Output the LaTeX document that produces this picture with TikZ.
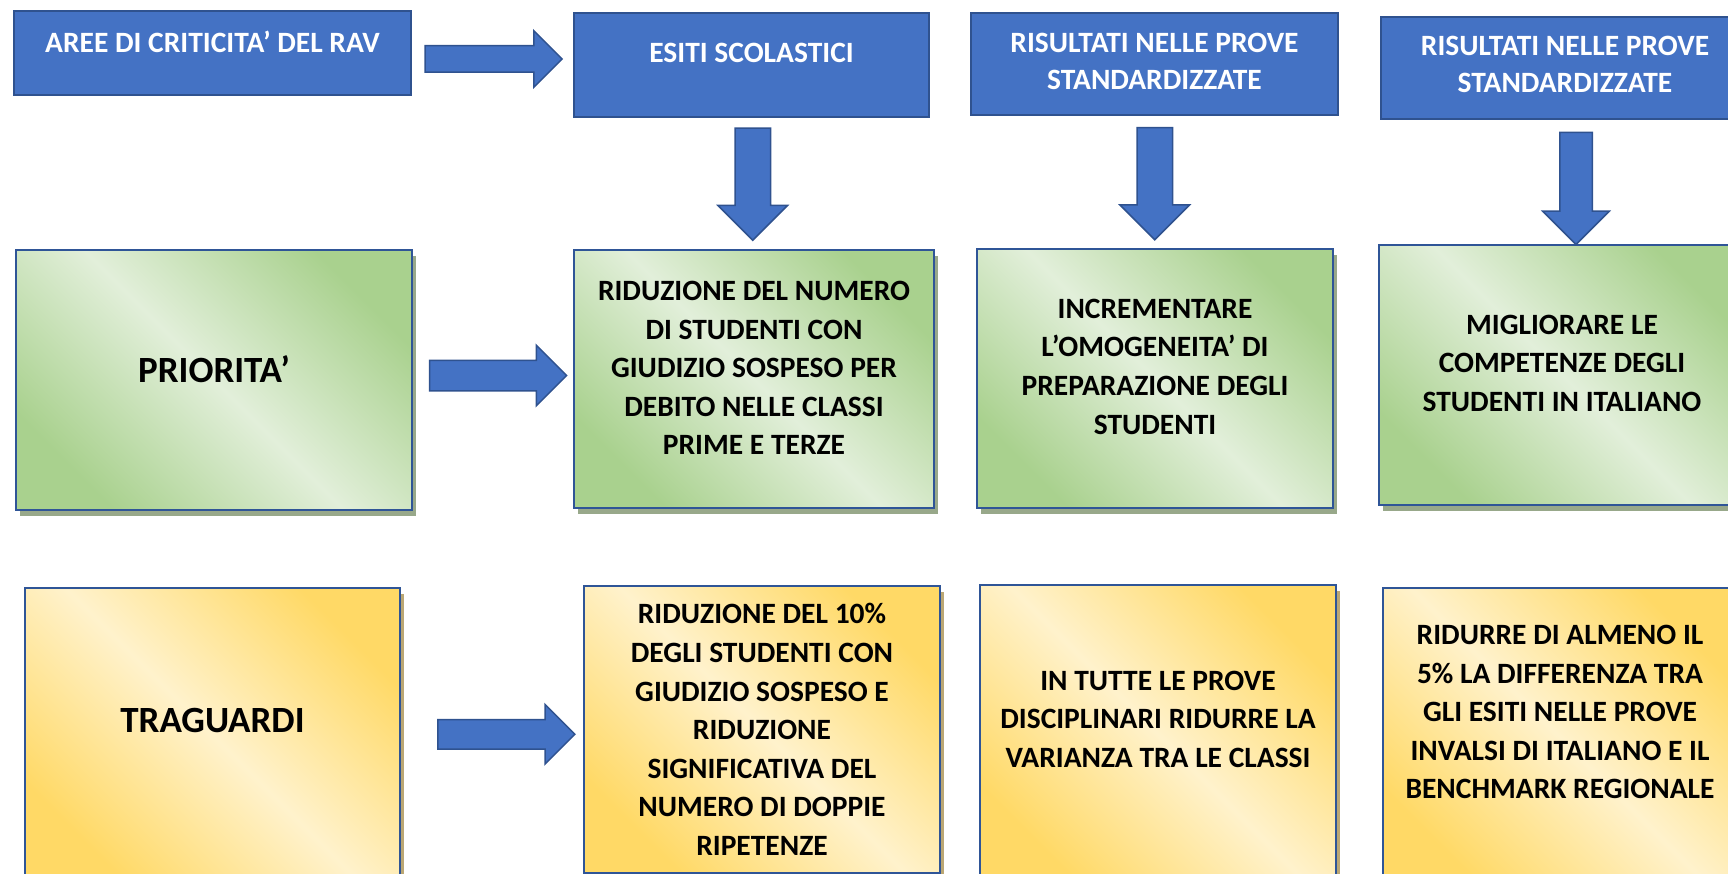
\documentclass[tikz,border=0pt]{standalone}
\usepackage{fontspec}
\setmainfont{Carlito}
\usetikzlibrary{shapes.arrows,shadows,calc}

\definecolor{rblue}{HTML}{4472C4}
\definecolor{rblueline}{HTML}{2F528F}
\definecolor{rboxline}{HTML}{2F5597}
\definecolor{gdark}{HTML}{A9D18E}
\definecolor{glight}{HTML}{E2EFDA}
\definecolor{ydark}{HTML}{FFD966}
\definecolor{ylight}{HTML}{FFF2CC}
\definecolor{gshadow}{HTML}{98A88A}
\definecolor{yshadow}{HTML}{BBA774}

\tikzset{
  areabox/.style={draw=rblueline, line width=2pt, fill=rblue, text=white,
    font=\bfseries\fontsize{29.5}{37}\selectfont, align=center, inner sep=0pt},
  priobox/.style={draw=rboxline, line width=2.5pt,
    top color=gdark, bottom color=gdark, middle color=glight, shading angle=-45,
    drop shadow={fill=gshadow, opacity=1, shadow xshift=4pt, shadow yshift=-6pt},
    font=\bfseries\fontsize{29.5}{38.6}\selectfont, align=center, inner sep=0pt},
  tragbox/.style={draw=rboxline, line width=2.5pt,
    top color=ydark, bottom color=ydark, middle color=ylight, shading angle=-45,
    drop shadow={fill=yshadow, opacity=1, shadow xshift=4pt, shadow yshift=-6pt},
    font=\bfseries\fontsize{29.5}{38.6}\selectfont, align=center, inner sep=0pt},
  bigtext/.style={font=\bfseries\fontsize{37}{44}\selectfont},
  harrow/.style={single arrow, draw=rblueline, line width=1.5pt, fill=rblue,
    minimum height=137pt, inner xsep=0pt, inner ysep=13.5pt,
    text height=0pt, text depth=0pt, single arrow head extend=15pt},
  varrow/.style={harrow, rotate=-90, minimum height=112pt, inner ysep=17pt,
    single arrow head extend=17pt}
}

\begin{document}
\begin{tikzpicture}[x=1pt,y=-1pt]
\clip (0,0) rectangle (1728,874);

% aree di criticita'
\node[areabox, minimum width=397pt, minimum height=84pt, text depth=22pt] (aree) at (212.5,53) {AREE DI CRITICITA’ DEL RAV};
\node[areabox, minimum width=355pt, minimum height=104pt, text depth=24pt] (esiti) at (751.5,65) {ESITI SCOLASTICI};
\node[areabox, minimum width=367pt, minimum height=102pt, text depth=5pt] (prove) at (1154.5,64) {RISULTATI NELLE PROVE\\STANDARDIZZATE};
\node[areabox, minimum width=368pt, minimum height=102pt, text depth=7pt] (invalsi) at (1565,68) {RISULTATI NELLE PROVE\\STANDARDIZZATE};

% priorita'
\node[priobox, bigtext, minimum width=396pt, minimum height=260pt, text depth=22pt] (prio) at (214,380) {PRIORITA’};
\node[priobox, minimum width=360pt, minimum height=258pt, text depth=22pt] (prioesiti) at (754,379) {RIDUZIONE DEL NUMERO\\DI STUDENTI CON\\GIUDIZIO SOSPESO PER\\DEBITO NELLE CLASSI\\PRIME E TERZE};
\node[priobox, minimum width=356pt, minimum height=259pt, text depth=24pt] (prioprove) at (1155,378.5) {INCREMENTARE\\L’OMOGENEITA’ DI\\PREPARAZIONE DEGLI\\STUDENTI};
\node[priobox, minimum width=366pt, minimum height=260pt, text depth=24pt] (prioinvalsi) at (1562,375) {MIGLIORARE LE\\COMPETENZE DEGLI\\STUDENTI IN ITALIANO};

% traguardi
\node[tragbox, bigtext, minimum width=375pt, minimum height=294pt, text depth=30pt] (trag) at (212.5,735) {TRAGUARDI};
\node[tragbox, minimum width=356pt, minimum height=287pt] (tragesiti) at (762,729.5) {RIDUZIONE DEL 10\%\\DEGLI STUDENTI CON\\GIUDIZIO SOSPESO E\\RIDUZIONE\\SIGNIFICATIVA DEL\\NUMERO DI DOPPIE\\RIPETENZE};
\node[tragbox, minimum width=356pt, minimum height=298pt, text depth=30pt] (tragprove) at (1158,734) {IN TUTTE LE PROVE\\DISCIPLINARI RIDURRE LA\\VARIANZA TRA LE CLASSI};
\node[tragbox, minimum width=354pt, minimum height=298pt, text depth=50pt] (traginvalsi) at (1560,737) {RIDURRE DI ALMENO IL\\5\% LA DIFFERENZA TRA\\GLI ESITI NELLE PROVE\\INVALSI DI ITALIANO E IL\\BENCHMARK REGIONALE};

% frecce
\node[harrow, inner ysep=12.5pt] (a1) at ($(aree.east)!.5!(esiti.west)+(-5.5,0)$) {};
\node[harrow, inner ysep=14.5pt] (a2) at ($(prio.east)!.5!(prioesiti.west)+(-2.5,-4)$) {};
\node[harrow, inner ysep=14pt] (a3) at ($(trag.east)!.5!(tragesiti.west)+(7,2)$) {};
\node[varrow] (v1) at ($(esiti.south)!.5!(prioesiti.north)+(0,-8)$) {};
\node[varrow] (v2) at ($(prove.south)!.5!(prioprove.north)+(0,-7)$) {};
\node[varrow, inner ysep=15.5pt] (v3) at ($(invalsi.south)!.5!(prioinvalsi.north)+(12.5,-1.5)$) {};
\end{tikzpicture}
\end{document}
